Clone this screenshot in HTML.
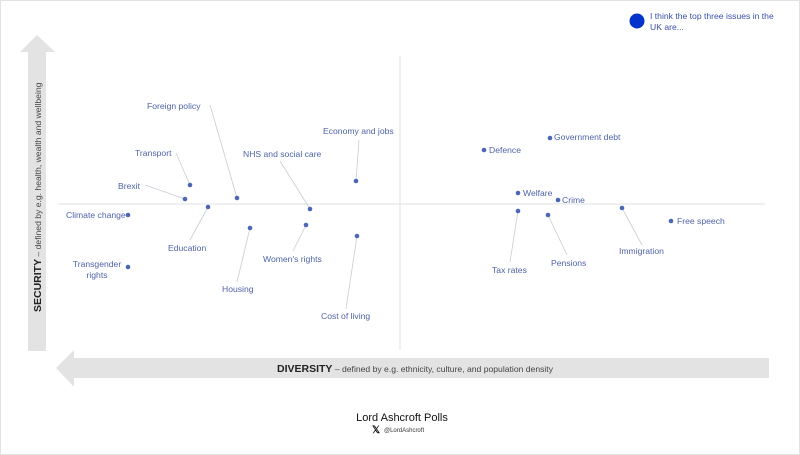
<!DOCTYPE html>
<html><head><meta charset="utf-8"><style>
html,body{margin:0;padding:0;background:#fff}
svg{display:block}
text{font-family:"Liberation Sans",sans-serif}
.l{font-size:8.6px;fill:#4f63a8}
.d{fill:#4a66b5}
.k{stroke:#c8ccd4;stroke-width:0.8;fill:none}
</style></head><body>
<svg width="800" height="455" viewBox="0 0 800 455">
<rect x="0.5" y="0.5" width="799" height="454" fill="#fff" stroke="#e2e2e2"/>
<polygon points="37,35 55,52 46,52 46,351 28,351 28,52 20,52" fill="#e3e3e3"/>
<text transform="translate(41,312) rotate(-90)" font-size="8.6" fill="#444"><tspan font-weight="bold" font-size="10.5" fill="#222">SECURITY</tspan> – defined by e.g. health, wealth and wellbeing</text>
<polygon points="56,368 74,350 74,358 769,358 769,378 74,378 74,387" fill="#e3e3e3"/>
<text x="277" y="372" font-size="8.6" fill="#444"><tspan font-weight="bold" font-size="10.5" fill="#222">DIVERSITY</tspan> – defined by e.g. ethnicity, culture, and population density</text>
<line x1="58" y1="204" x2="765" y2="204" stroke="#dde0e6" stroke-width="1"/>
<line x1="400" y1="56" x2="400" y2="350" stroke="#dde0e6" stroke-width="1"/>
<path class="k" d="M210,105 L237,198 M176,153 L190,185 M145,185 L185,199 M190,240 L208,207 M237,282 L250,228 M280,161 L310,209 M293,251 L306,225 M359,140 L356,181 M346,309 L357,236 M510,262 L518,211 M567,255 L548,215 M642,245 L622,208"/>
<g class="d">
<circle cx="190" cy="185" r="2.3"/><circle cx="185" cy="199" r="2.3"/><circle cx="237" cy="198" r="2.3"/>
<circle cx="208" cy="207" r="2.3"/><circle cx="128" cy="215" r="2.3"/><circle cx="128" cy="267" r="2.3"/>
<circle cx="250" cy="228" r="2.3"/><circle cx="310" cy="209" r="2.3"/><circle cx="306" cy="225" r="2.3"/>
<circle cx="356" cy="181" r="2.3"/><circle cx="357" cy="236" r="2.3"/>
<circle cx="484" cy="150" r="2.3"/><circle cx="550" cy="138" r="2.3"/><circle cx="518" cy="193" r="2.3"/>
<circle cx="558" cy="200" r="2.3"/><circle cx="518" cy="211" r="2.3"/><circle cx="548" cy="215" r="2.3"/>
<circle cx="622" cy="208" r="2.3"/><circle cx="671" cy="221" r="2.3"/>
</g>
<g class="l">
<text x="147" y="109">Foreign policy</text>
<text x="135" y="156">Transport</text>
<text x="118" y="189">Brexit</text>
<text x="66" y="218">Climate change</text>
<text x="168" y="251">Education</text>
<text x="97" y="267" text-anchor="middle">Transgender</text>
<text x="97" y="278" text-anchor="middle">rights</text>
<text x="222" y="292">Housing</text>
<text x="243" y="157">NHS and social care</text>
<text x="263" y="262">Women's rights</text>
<text x="323" y="134">Economy and jobs</text>
<text x="321" y="319">Cost of living</text>
<text x="489" y="153">Defence</text>
<text x="554" y="140">Government debt</text>
<text x="523" y="196">Welfare</text>
<text x="562" y="203">Crime</text>
<text x="492" y="273">Tax rates</text>
<text x="551" y="266">Pensions</text>
<text x="619" y="254">Immigration</text>
<text x="677" y="224">Free speech</text>
</g>
<circle cx="637" cy="21" r="7.5" fill="#0633cc"/>
<text x="650" y="19" font-size="8.6" fill="#3a4fa8">I think the top three issues in the</text>
<text x="650" y="30" font-size="8.6" fill="#3a4fa8">UK are...</text>
<text x="402" y="421" font-size="11" fill="#111" text-anchor="middle">Lord Ashcroft Polls</text>
<text x="372" y="433" font-size="10" font-weight="bold" fill="#111">𝕏</text>
<text x="384" y="432" font-size="6" fill="#333">@LordAshcroft</text>
</svg>
</body></html>
